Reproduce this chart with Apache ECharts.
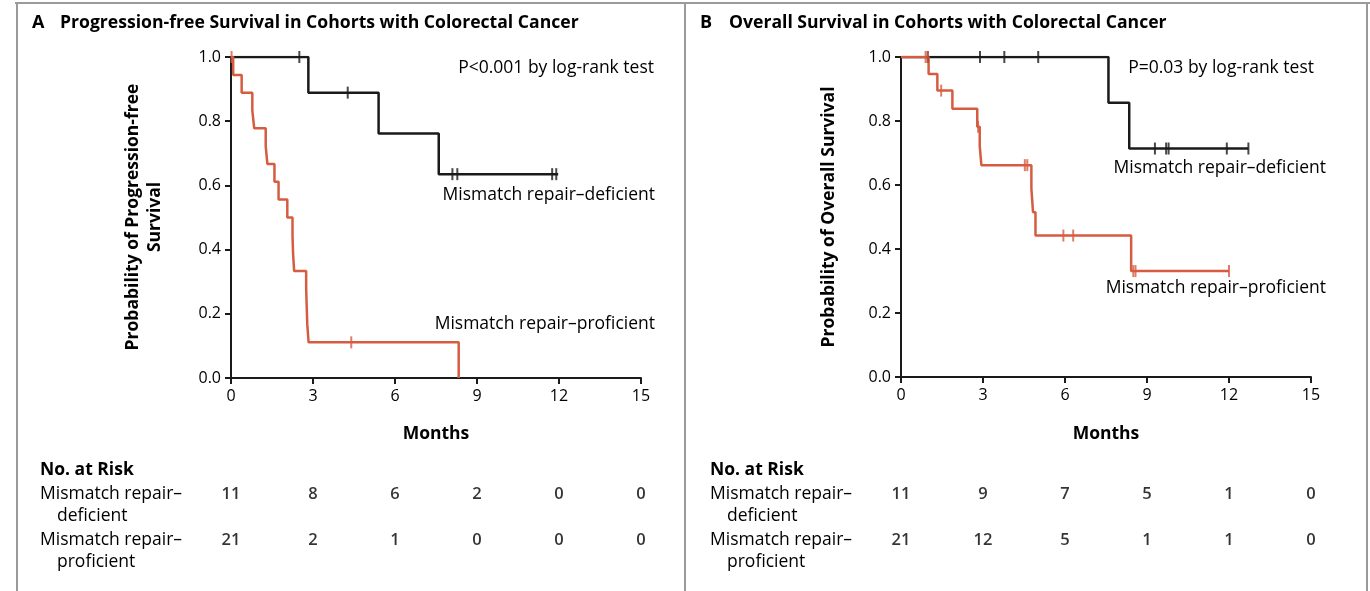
<!DOCTYPE html>
<html><head><meta charset="utf-8">
<script src="https://cdn.jsdelivr.net/npm/echarts@6/dist/echarts.min.js"></script>
<style>html,body{margin:0;padding:0;background:#fff}#c{width:1370px;height:591px}</style>
</head><body><div id="c"></div>
<script>
// ---- tick labels ----
const xTicks = [0, 3, 6, 9, 12, 15];
const yTicks = [0, 0.2, 0.4, 0.6, 0.8, 1.0];

// ---- Panel A: progression-free survival (time in months, survival after step) ----
const pfsDefTime = [0, 2.83, 5.40, 7.60, 11.97];
const pfsDefSurv = [1, 0.889, 0.762, 0.635, 0.635];
const pfsDefCensTime = [2.50, 4.27, 8.10, 8.28, 11.75, 11.90];
const pfsDefCensSurv = [1, 0.889, 0.635, 0.635, 0.635, 0.635];

const pfsProfTime = [0, 0.08, 0.39, 0.78, 0.85, 1.27, 1.33, 1.59, 1.74, 2.06, 2.25, 2.27, 2.31, 2.75, 2.77, 2.79, 2.84, 8.33];
const pfsProfSurv = [1, 0.944, 0.889, 0.833, 0.778, 0.722, 0.667, 0.611, 0.556, 0.500, 0.444, 0.389, 0.333, 0.278, 0.222, 0.167, 0.111, 0];
const pfsProfCensTime = [0.02, 4.40];
const pfsProfCensSurv = [1, 0.111];

// ---- Panel B: overall survival ----
const osDefTime = [0, 7.59, 8.35, 12.71];
const osDefSurv = [1, 0.857, 0.714, 0.714];
const osDefCensTime = [0.98, 2.89, 3.78, 5.02, 9.29, 9.70, 9.79, 11.92, 12.71];
const osDefCensSurv = [1, 1, 1, 1, 0.714, 0.714, 0.714, 0.714, 0.714];

const osProfTime = [0, 1.01, 1.33, 1.88, 2.79, 2.88, 2.94, 4.77, 4.83, 4.92, 8.42, 12.0];
const osProfSurv = [1, 0.947, 0.895, 0.838, 0.782, 0.722, 0.662, 0.589, 0.515, 0.442, 0.331, 0.331];
const osProfCensTime = [0.90, 0.98, 1.47, 2.82, 4.53, 4.62, 5.94, 6.30, 8.50, 8.58, 12.0];
const osProfCensSurv = [1, 1, 0.895, 0.782, 0.662, 0.662, 0.442, 0.442, 0.331, 0.331, 0.331];

// ---- Number at risk ----
const riskTimes = [0, 3, 6, 9, 12, 15];
const pfsRiskDef = [11, 8, 6, 2, 0, 0];
const pfsRiskProf = [21, 2, 1, 0, 0, 0];
const osRiskDef = [11, 9, 7, 5, 1, 0];
const osRiskProf = [21, 12, 5, 1, 1, 0];

// ---- texts ----
const titleA = 'Progression-free Survival in Cohorts with Colorectal Cancer';
const titleB = 'Overall Survival in Cohorts with Colorectal Cancer';
const yNameA = 'Probability of Progression-free\nSurvival';
const yNameB = 'Probability of Overall Survival';
const pTextA = 'P<0.001 by log-rank test';
const pTextB = 'P=0.03 by log-rank test';
const labDef = 'Mismatch repair\u2013deficient';
const labProf = 'Mismatch repair\u2013proficient';

const BLACK = '#1a1a1a';
const RED = '#d65c41';
const FONT = '"Open Sans"';

const zip = (a, b) => a.map((v, i) => [v, b[i]]);

const chart = echarts.init(document.getElementById('c'), null, {renderer: 'canvas'});

function xAx(gi, show) {
  return {
    gridIndex: gi, type: 'value', min: 0, max: 15, interval: 3, show: show,
    axisLine: {show: true, onZero: false, lineStyle: {color: BLACK, width: 2}},
    axisTick: {show: true, length: 6, lineStyle: {color: BLACK, width: 2}},
    axisLabel: {show: true, color: '#000', fontSize: 16, fontFamily: 'Open Sans', margin: 10},
    splitLine: {show: false}
  };
}
function yAx(gi) {
  return {
    gridIndex: gi, type: 'value', min: 0, max: 1, interval: 0.2,
    axisLine: {show: true, lineStyle: {color: BLACK, width: 2}},
    axisTick: {show: true, length: 6, lineStyle: {color: BLACK, width: 2}},
    axisLabel: {color: '#000', fontSize: 16, fontFamily: 'Open Sans', margin: 10, formatter: v => v.toFixed(1)},
    splitLine: {show: false}
  };
}
function riskX(gi) { return {gridIndex: gi, type: 'value', min: 0, max: 15, interval: 3, show: false}; }
function riskY(gi) { return {gridIndex: gi, type: 'value', min: 0, max: 1, show: false}; }

function km(name, xi, t, s, color) {
  return {name, type: 'line', xAxisIndex: xi, yAxisIndex: xi, step: 'end', data: zip(t, s),
    symbol: 'none', lineStyle: {color, width: 2.5}, silent: true, z: 3};
}
function cens(xi, t, s, color) {
  return {type: 'scatter', xAxisIndex: xi, yAxisIndex: xi, data: zip(t, s),
    symbol: 'rect', symbolSize: [2, 12], itemStyle: {color}, silent: true, z: 4};
}
function risk(xi, counts, row) {
  return {type: 'scatter', xAxisIndex: xi, yAxisIndex: xi, data: riskTimes.map((t, i) => [t, row, counts[i]]),
    symbolSize: 0, silent: true,
    label: {show: true, position: 'inside', formatter: p => String(p.value[2]), color: '#000',
      fontSize: 16.5, fontFamily: 'Open Sans', fontWeight: 600}};
}

function txt(x, y, text, opt) {
  return Object.assign({type: 'text', x, y, silent: true,
    style: Object.assign({text, fill: '#000', font: '17.5px ' + FONT, textVerticalAlign: 'middle'}, opt || {})});
}
function line(x1, y1, x2, y2) {
  return {type: 'line', silent: true, shape: {x1, y1, x2, y2}, style: {stroke: '#9a9a9a', lineWidth: 2}};
}

const graphics = [
  line(15, 3, 1370, 3), line(17, 3, 17, 591), line(685, 3, 685, 591), line(1367, 3, 1367, 591),
  txt(32, 23, 'A', {font: 'bold 18px ' + FONT}),
  txt(60, 23, titleA, {font: 'bold 17.6px ' + FONT}),
  txt(700, 23, 'B', {font: 'bold 18px ' + FONT}),
  txt(729, 23, titleB, {font: 'bold 17.6px ' + FONT}),
  {type: 'text', x: 144, y: 217, rotation: Math.PI / 2, silent: true,
    style: {text: yNameA, font: 'bold 17.5px ' + FONT, fill: '#000', textAlign: 'center', textVerticalAlign: 'middle', lineHeight: 22}},
  {type: 'text', x: 829, y: 217, rotation: Math.PI / 2, silent: true,
    style: {text: yNameB, font: 'bold 17.5px ' + FONT, fill: '#000', textAlign: 'center', textVerticalAlign: 'middle'}},
  txt(436, 434, 'Months', {font: 'bold 17.5px ' + FONT, textAlign: 'center'}),
  txt(1106, 434, 'Months', {font: 'bold 17.5px ' + FONT, textAlign: 'center'}),
  txt(654, 68, pTextA, {textAlign: 'right'}),
  txt(1314, 68, pTextB, {textAlign: 'right'}),
  txt(655, 195, labDef, {textAlign: 'right'}),
  txt(655, 324, labProf, {textAlign: 'right'}),
  txt(1326, 168, labDef, {textAlign: 'right'}),
  txt(1326, 288, labProf, {textAlign: 'right'}),
];
[40, 710].forEach((x0) => {
  graphics.push(txt(x0, 470, 'No. at Risk', {font: 'bold 17.5px ' + FONT}));
  graphics.push(txt(x0, 494, 'Mismatch repair\u2013'));
  graphics.push(txt(x0 + 17, 516, 'deficient'));
  graphics.push(txt(x0, 540, 'Mismatch repair\u2013'));
  graphics.push(txt(x0 + 17, 562, 'proficient'));
});

chart.setOption({
  animation: false,
  backgroundColor: '#fff',
  grid: [
    {left: 231, top: 57, width: 410, height: 321},
    {left: 901, top: 57, width: 410, height: 320},
    {left: 231, top: 494, width: 410, height: 46},
    {left: 901, top: 494, width: 410, height: 46}
  ],
  xAxis: [xAx(0, true), xAx(1, true), riskX(2), riskX(3)],
  yAxis: [yAx(0), yAx(1), riskY(2), riskY(3)],
  series: [
    km('pfsDef', 0, pfsDefTime, pfsDefSurv, BLACK),
    cens(0, pfsDefCensTime, pfsDefCensSurv, BLACK),
    km('pfsProf', 0, pfsProfTime, pfsProfSurv, RED),
    cens(0, pfsProfCensTime, pfsProfCensSurv, RED),
    km('osDef', 1, osDefTime, osDefSurv, BLACK),
    cens(1, osDefCensTime, osDefCensSurv, BLACK),
    km('osProf', 1, osProfTime, osProfSurv, RED),
    cens(1, osProfCensTime, osProfCensSurv, RED),
    risk(2, pfsRiskDef, 1), risk(2, pfsRiskProf, 0),
    risk(3, osRiskDef, 1), risk(3, osRiskProf, 0)
  ],
  graphic: graphics
});
</script>
</body></html>
